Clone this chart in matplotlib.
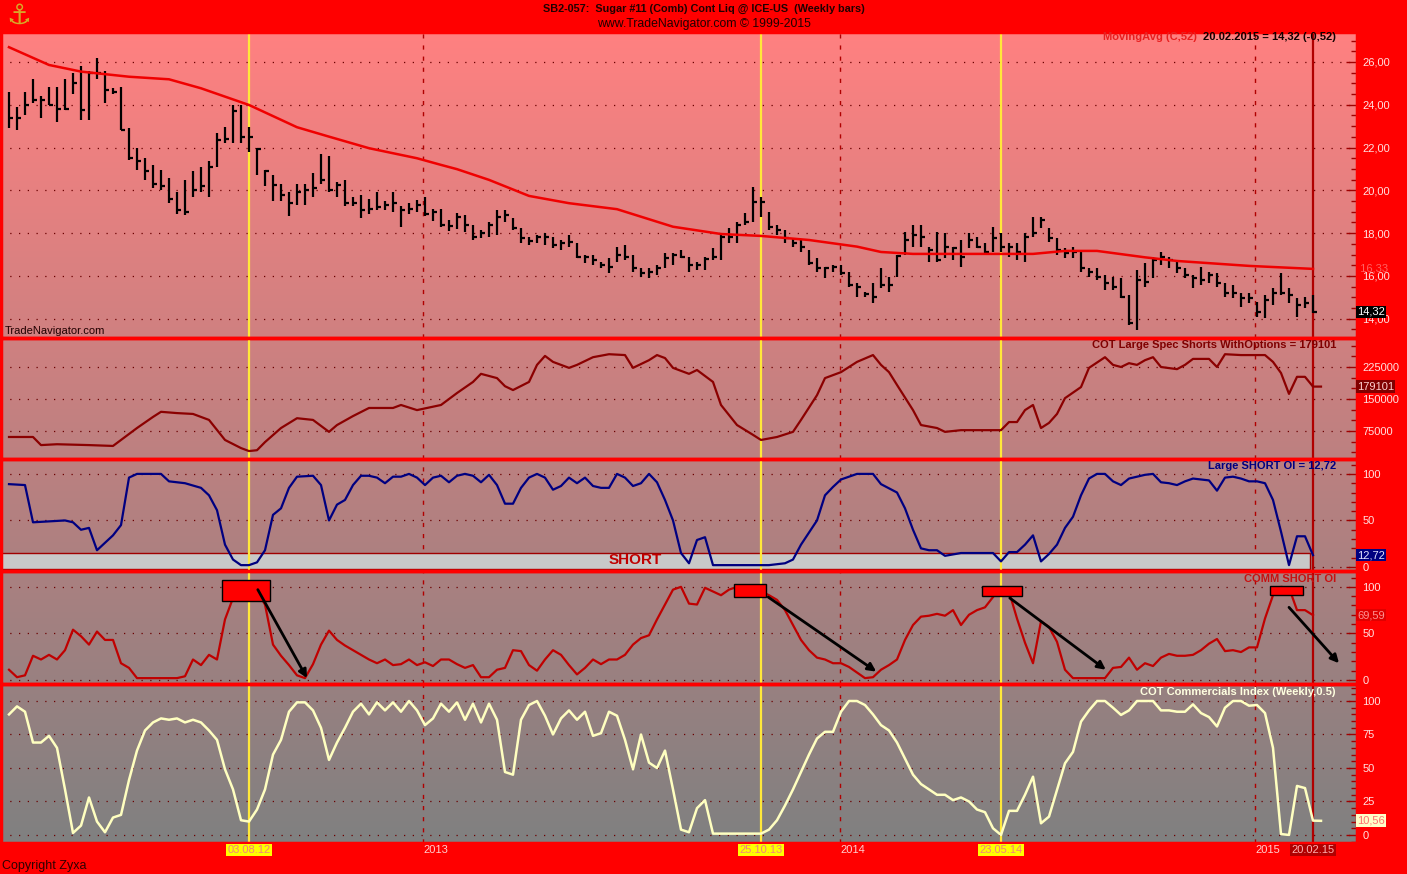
"""Sugar #11 weekly bars with COT panels, TradeNavigator style."""

import numpy as np
import matplotlib
matplotlib.use('Agg')
import matplotlib.pyplot as plt
from matplotlib.patches import Rectangle
from matplotlib.ticker import MultipleLocator, FuncFormatter
from matplotlib import font_manager

plt.rcParams['font.family'] = ['Liberation Sans', 'DejaVu Sans']

# weekly bars: week 0 = early Jan 2012, week 163 = 20.02.2015
bar_high = [
    24.6, 23.9, 24.6, 25.2, 24.4, 24.85, 24.85, 25.2, 25.5, 25.8,
    25.6, 26.2, 25.6, 24.8, 24.85, 22.9, 22.0, 21.5, 21.2, 20.95,
    20.6, 19.9, 20.5, 20.9, 21.1, 21.35, 22.7, 22.95, 24.0, 24.0,
    22.95, 22.0, 20.95, 20.7, 20.3, 19.9, 20.3, 20.3, 20.8, 21.7,
    21.6, 20.4, 20.5, 19.7, 19.8, 19.6, 19.9, 19.5, 19.9, 19.25,
    19.4, 19.55, 19.7, 19.15, 19.15, 18.6, 18.93, 18.85, 18.38, 18.15,
    18.54, 19.08, 19.08, 18.7, 18.23, 17.84, 17.92, 18.0, 17.84, 17.68,
    17.92, 17.53, 16.98, 16.98, 16.67, 16.83, 17.37, 17.45, 16.98, 16.36,
    16.36, 16.5, 17.06, 17.06, 17.2, 16.9, 16.67, 16.9, 17.3, 17.92,
    18.23, 18.54, 18.93, 20.17, 19.7, 19.0, 18.38, 18.15, 17.76, 17.68,
    17.2, 16.83, 16.43, 16.5, 16.5, 16.2, 15.66, 15.27, 15.66, 16.36,
    15.97, 17.0, 18.07, 18.38, 18.38, 17.37, 18.07, 18.0, 17.37, 17.68,
    18.0, 17.84, 17.53, 18.3, 18.0, 17.53, 17.53, 18.0, 18.77, 18.77,
    18.23, 17.76, 17.3, 17.37, 17.14, 16.36, 16.36, 16.05, 15.97, 15.9,
    15.11, 16.28, 16.6, 16.9, 17.14, 16.9, 16.75, 16.36, 16.05, 16.43,
    16.2, 16.13, 15.66, 15.58, 15.19, 15.19, 14.8, 15.11, 15.42, 16.13,
    15.42, 14.96, 15.03, 15.11]
bar_low = [
    22.9, 22.8, 23.5, 24.1, 23.4, 24.0, 23.2, 23.75, 24.5, 23.3,
    23.3, 25.2, 24.1, 24.5, 22.8, 21.4, 20.95, 20.5, 20.1, 20.0,
    19.4, 18.9, 18.85, 19.7, 19.9, 19.7, 21.1, 22.2, 22.2, 22.2,
    21.8, 20.7, 20.2, 19.5, 19.5, 18.8, 19.3, 19.3, 19.7, 20.3,
    19.9, 19.7, 19.25, 19.25, 18.7, 18.9, 19.1, 19.1, 19.0, 18.3,
    18.9, 19.0, 18.8, 18.55, 18.3, 18.1, 18.2, 18.07, 17.68, 17.76,
    17.84, 17.92, 18.54, 18.15, 17.53, 17.45, 17.53, 17.45, 17.3, 17.2,
    17.37, 16.83, 16.6, 16.5, 16.36, 16.13, 16.67, 16.75, 16.2, 15.97,
    15.9, 16.05, 16.36, 16.5, 16.83, 16.2, 16.28, 16.28, 16.75, 16.75,
    17.53, 17.53, 18.38, 18.54, 18.77, 18.15, 17.92, 17.53, 17.37, 17.14,
    16.5, 16.2, 15.9, 16.2, 16.05, 15.5, 15.03, 15.03, 14.72, 15.42,
    15.27, 15.97, 16.98, 17.37, 17.37, 16.67, 16.67, 16.83, 16.75, 16.43,
    17.3, 17.3, 17.06, 17.14, 17.14, 16.9, 16.75, 16.67, 17.84, 18.23,
    17.6, 16.98, 16.83, 16.83, 16.2, 15.97, 15.81, 15.35, 15.35, 14.96,
    13.71, 13.48, 15.5, 15.9, 16.5, 16.36, 16.13, 15.9, 15.42, 15.58,
    15.66, 15.5, 15.03, 14.96, 14.57, 14.72, 14.1, 14.02, 14.64, 15.11,
    14.72, 14.1, 14.49, 14.25]
bar_close = [
    23.4, 23.4, 24.0, 24.2, 24.2, 24.0, 23.8, 23.8, 25.0, 23.75,
    25.5, 25.5, 24.7, 24.6, 22.8, 21.5, 21.35, 20.9, 20.3, 20.2,
    19.6, 19.1, 19.0, 20.0, 20.2, 21.1, 22.35, 22.4, 23.7, 22.5,
    22.5, 21.95, 20.9, 20.25, 19.8, 19.4, 19.9, 20.0, 20.1, 20.5,
    20.0, 20.25, 19.4, 19.4, 19.1, 19.15, 19.2, 19.3, 19.4, 19.1,
    19.15, 19.3, 18.9, 19.0, 18.4, 18.35, 18.77, 18.38, 17.8, 18.0,
    18.38, 18.77, 18.85, 18.23, 17.76, 17.65, 17.8, 17.8, 17.45, 17.53,
    17.6, 16.9, 16.87, 16.75, 16.5, 16.43, 16.98, 16.9, 16.36, 16.13,
    16.2, 16.36, 16.83, 16.98, 16.9, 16.5, 16.5, 16.78, 16.9, 17.84,
    17.8, 18.38, 18.54, 19.47, 19.47, 18.3, 18.15, 17.76, 17.53, 17.37,
    16.6, 16.36, 16.36, 16.4, 16.13, 15.58, 15.5, 15.16, 15.03, 15.58,
    15.58, 16.95, 17.68, 17.92, 17.84, 17.2, 16.75, 17.37, 17.3, 16.9,
    17.68, 17.37, 17.14, 17.76, 17.37, 17.37, 17.14, 17.84, 18.0, 18.62,
    17.76, 17.2, 17.06, 17.14, 16.36, 16.2, 15.97, 15.66, 15.5, 15.03,
    13.79, 15.81, 15.73, 16.75, 16.9, 16.75, 16.36, 16.05, 15.9, 15.81,
    16.05, 15.66, 15.19, 15.19, 14.96, 14.96, 14.33, 14.88, 15.19, 15.19,
    15.11, 14.64, 14.72, 14.32]

# 52 week moving average, read at these weeks
ma_week = [0, 5, 9, 15, 20, 24, 30, 36, 40, 45, 51, 54, 56, 60, 65, 70,
           76, 83, 89, 94, 100, 106, 109, 113, 121, 128, 132, 136, 142,
           146, 155, 163]
ma_value = [26.69, 25.86, 25.55, 25.31, 25.19, 24.77, 23.99, 22.95, 22.51,
            21.97, 21.5, 21.19, 20.99, 20.49, 19.74, 19.4, 19.12, 18.3,
            17.96, 17.87, 17.68, 17.37, 17.12, 17.03, 17.03, 17.03, 17.17,
            17.17, 16.87, 16.7, 16.47, 16.33]

# COT large spec shorts with options (thousands of contracts)
spec_week = [0, 3, 4, 6, 10, 13, 14, 16, 18, 19, 21, 23, 25, 27, 29, 30, 31,
             32, 34, 36, 38, 40, 41, 43, 45, 48, 49, 51, 54, 56, 58, 59, 61,
             62, 63, 65, 66, 67, 68, 70, 71, 73, 75, 77, 78, 80, 81, 82, 83,
             85, 86, 88, 89, 91, 93, 94, 96, 98, 99, 101, 102, 104, 106, 108,
             109, 110, 111, 113, 114, 116, 117, 119, 122, 124, 125, 126, 127,
             128, 129, 130, 131, 132, 134, 135, 137, 138, 139, 140, 141, 142,
             143, 144, 146, 147, 148, 150, 151, 152, 154, 156, 157, 158, 159,
             160, 161, 162, 163, 164]
spec_shorts = [61, 61, 42, 44, 42, 40, 54, 82, 108, 120, 117, 115, 101, 54,
               35, 28, 30, 49, 82, 105, 101, 73, 89, 110, 129, 129, 136, 124,
               136, 164, 190, 209, 199, 180, 171, 190, 230, 251, 237, 223,
               230, 248, 255, 253, 223, 241, 253, 246, 223, 209, 218, 190,
               136, 89, 66, 54, 61, 73, 101, 159, 199, 213, 237, 253, 230,
               213, 183, 124, 89, 82, 73, 77, 77, 77, 96, 96, 124, 136, 82,
               94, 115, 152, 178, 223, 248, 230, 225, 234, 230, 241, 248, 225,
               220, 230, 244, 244, 225, 255, 253, 253, 253, 237, 211, 162,
               202, 202, 179.101, 179.101]

# Large SHORT OI index
large_week = [0, 2, 3, 5, 7, 8, 9, 10, 11, 13, 14, 15, 16, 19, 20, 22, 24,
              25, 26, 27, 28, 29, 30, 31, 32, 33, 34, 35, 36, 38, 39, 40, 41,
              42, 43, 44, 45, 46, 47, 48, 49, 50, 51, 52, 53, 54, 55, 56, 57,
              58, 59, 60, 61, 62, 63, 64, 65, 66, 67, 68, 69, 70, 71, 72, 73,
              74, 75, 76, 77, 78, 79, 80, 81, 82, 83, 84, 85, 86, 87, 88, 95,
              97, 98, 99, 101, 102, 103, 104, 106, 108, 109, 111, 112, 113,
              114, 115, 116, 117, 119, 123, 124, 125, 126, 127, 128, 129, 130,
              131, 132, 133, 134, 135, 136, 137, 138, 139, 140, 141, 142, 143,
              144, 145, 146, 147, 148, 150, 151, 152, 153, 154, 155, 156, 157,
              158, 159, 160, 161, 162, 163]
large_short_oi = [89, 88, 48, 49, 50, 48, 40, 42, 18, 34, 45, 96, 100, 100,
                  92, 90, 85, 77, 61, 24, 8, 2, 2, 5, 18, 56, 63, 85, 97, 98,
                  88, 50, 67, 72, 88, 98, 98, 96, 90, 97, 97, 100, 96, 88, 96,
                  98, 91, 98, 100, 98, 91, 99, 88, 68, 68, 85, 96, 100, 96, 83,
                  87, 96, 90, 96, 87, 85, 85, 100, 96, 87, 90, 100, 91, 72, 50,
                  15, 4, 29, 32, 2, 2, 4, 8, 24, 50, 77, 86, 94, 100, 100, 89,
                  80, 63, 40, 20, 18, 18, 12, 15, 15, 6, 16, 16, 24, 34, 6, 14,
                  24, 42, 54, 77, 95, 100, 100, 92, 88, 95, 97, 99, 100, 91, 90,
                  88, 92, 95, 93, 82, 96, 97, 95, 92, 92, 90, 72, 38, 2, 33, 33,
                  12.72]

# COMM SHORT OI, one value per week
comm_short_oi = [
    11, 3, 5, 26, 22, 27, 22, 32, 54, 47,
    38, 52, 43, 43, 18, 13, 2, 2, 2, 2,
    2, 2, 4, 22, 16, 27, 22, 65, 88, 97,
    100, 95, 81, 38, 26, 16, 5, 2, 17, 38,
    53, 43, 37, 32, 27, 22, 18, 22, 16, 17,
    22, 16, 19, 15, 22, 22, 17, 13, 16, 3,
    3, 11, 13, 32, 31, 16, 10, 22, 32, 27,
    16, 6, 13, 22, 17, 22, 22, 27, 38, 45,
    48, 65, 81, 97, 100, 82, 81, 99, 95, 91,
    97, 100, 97, 100, 95, 91, 86, 75, 59, 43,
    32, 24, 22, 18, 18, 14, 8, 2, 3, 11,
    16, 22, 43, 59, 68, 69, 71, 69, 75, 59,
    70, 75, 78, 89, 100, 95, 66, 40, 18, 63,
    57, 41, 11, 2, 2, 2, 2, 2, 13, 14,
    24, 11, 18, 15, 24, 28, 26, 26, 27, 32,
    39, 44, 31, 32, 30, 35, 35, 66, 91, 100,
    99, 75, 75, 69.59]

# COT Commercials Index (Weekly, 0.5), one value per week
comm_index = [
    90, 96, 92, 69, 69, 74, 65, 34, 1.5, 7,
    28, 10, 2, 13, 15, 41, 63, 78, 84, 87,
    86, 87, 84, 86, 84, 78, 71, 49, 34, 11,
    10, 19, 34, 60, 71, 92, 99, 99, 93, 80,
    56, 69, 80, 92, 98, 90, 99, 93, 99, 92,
    100, 93, 82, 87, 98, 92, 99, 86, 98, 84,
    98, 86, 47, 45, 86, 97, 100, 89, 75, 87,
    93, 86, 92, 74, 76, 92, 89, 71, 49, 75,
    54, 50, 63, 34, 4, 2, 20, 26, 1, 1,
    1, 1, 1, 1, 1, 4, 11, 22, 34, 47,
    60, 72, 77, 77, 92, 100, 100, 97, 90, 82,
    78, 69, 57, 45, 38, 34, 30, 30, 26, 28,
    25, 19, 17, 5, 0, 18, 18, 30, 43.5, 8.7,
    13.7, 33.6, 53.5, 62, 84.6, 93, 100, 100, 95, 89.6,
    93, 100, 100, 100, 93, 93, 92, 92, 97.5, 91,
    88, 81, 95, 100, 100, 96.5, 97, 91, 65, 0.7,
    0, 36.6, 35, 10.7, 10.56]

signal_weeks = [30, 94, 124]
signal_labels = ['03.08.12', '25.10.13', '23.05.14']
year_weeks = [51.75, 103.9, 155.75]
year_labels = ['2013', '2014', '2015']
last_week = 163
last_label = '20.02.15'

W, H = 1407, 874
LEFT, RIGHT = 1, 1357
fig = plt.figure(figsize=(W / 100, H / 100), dpi=100, facecolor='#FF0000')

names = {f.name for f in font_manager.fontManager.ttflist}
narrow = ['Liberation Sans Narrow', 'DejaVu Sans'] \
    if 'Liberation Sans Narrow' in names else ['Liberation Sans', 'DejaVu Sans']
title_size = 9.5 if 'Liberation Sans Narrow' in names else 7.8


def px_rect(x0, y0, x1, y1):
    return [x0 / W, 1 - y1 / H, (x1 - x0) / W, (y1 - y0) / H]


def ftext(x, y, s, **kw):
    return fig.text(x / W, 1 - y / H, s, **kw)


# pink-to-grey gradient behind all panels
bg = fig.add_axes(px_rect(LEFT, 32, RIGHT, 843), zorder=0)
t = np.linspace(0, 1, 256)[:, None, None]
top = np.array([255, 128, 128]) / 255.0
bot = np.array([128, 128, 128]) / 255.0
grad = top * (1 - t) + bot * t
bg.imshow(np.repeat(grad, 2, axis=1), aspect='auto', extent=[0, 1, 0, 1])
bg.axis('off')

bounds = [(32, 338), (338, 459), (459, 571), (571, 684), (684, 843)]
ylims = [(13.10, 27.40), (9400, 293000), (-4.3, 116), (-4.3, 117), (-6, 112.7)]
majors = [2, 75000, 50, 50, 25]
minors = [0.5, 25000, 10, 10, 5]
fmts = [lambda v, p: ('%.2f' % v).replace('.', ','),
        lambda v, p: '%d' % v,
        lambda v, p: '%d' % v,
        lambda v, p: '%d' % v,
        lambda v, p: '%d' % v]

axes = []
for (ty, by), yl, mj, mn, fm in zip(bounds, ylims, majors, minors, fmts):
    ax = fig.add_axes(px_rect(LEFT, ty, RIGHT, by), zorder=1)
    ax.set_facecolor('none')
    ax.set_xlim(-1, 168.5)
    ax.set_ylim(*yl)
    ax.set_xticks([])
    ax.yaxis.tick_right()
    ax.yaxis.set_major_locator(MultipleLocator(mj))
    ax.yaxis.set_minor_locator(MultipleLocator(mn))
    ax.yaxis.set_major_formatter(FuncFormatter(fm))
    ax.tick_params(axis='y', which='major', direction='in', length=8,
                   width=1, color='#A00000', labelcolor='#FFE0E0',
                   labelsize=8, pad=4)
    ax.tick_params(axis='y', which='minor', direction='in', length=4,
                   width=1, color='#A00000')
    for s in ax.spines.values():
        s.set_color('#FF0000')
        s.set_linewidth(2.5)
    for v in np.arange(np.ceil(yl[0] / mj) * mj, yl[1], mj):
        ax.axhline(v, color='#6A0000', lw=0.9, ls=(0, (1, 6)), zorder=1)
    for w in year_weeks:
        ax.axvline(w, color='#B00000', lw=1, ls=(0, (3, 5)), zorder=1)
    for w in signal_weeks:
        ax.axvline(w, color='#FFE83A', lw=1.6, zorder=2)
    ax.axvline(last_week, color='#B00000', lw=1.6, zorder=2)
    axes.append(ax)

ax1, ax2, ax3, ax4, ax5 = axes

# price bars and moving average
weeks = np.arange(len(bar_close))
ax1.vlines(weeks, bar_low, bar_high, color='black', lw=1.6, zorder=3)
ax1.hlines(bar_close, weeks, weeks + 0.45, color='black', lw=1.6, zorder=3)
ax1.plot(ma_week, ma_value, color='#F00000', lw=1.8, zorder=4)

ax2.plot(spec_week, np.array(spec_shorts) * 1000, color='#8B0000', lw=1.6, zorder=3)

ax3.add_patch(Rectangle((-1.2, -2.2), 163.8, 17.2, fc='#C8C8C8', ec='#A00000',
                        lw=1, zorder=1.5))
ax3.text(78.25, 7.5, 'SHORT', color='#C00000', fontsize=11, fontweight='bold',
         ha='center', va='center', zorder=2)
ax3.plot(large_week, large_short_oi, color='#000080', lw=1.6, zorder=3)

ax4.plot(np.arange(len(comm_short_oi)), comm_short_oi, color='#C00000', lw=1.6, zorder=3)
for x0, x1, y0, y1 in [(26.6, 32.6, 85, 107.5), (90.6, 94.6, 89, 103),
                       (121.6, 126.6, 90, 101), (157.6, 161.75, 91, 101)]:
    ax4.add_patch(Rectangle((x0, y0), x1 - x0, y1 - y0, fc='#FF0000',
                            ec='black', lw=1, zorder=4))
for (xs, ys), (xe, ye) in [((31.1, 97), (37.25, 2)), ((94.9, 89), (108.4, 9)),
                           ((125.1, 88), (137.1, 11)), ((160, 78), (166.25, 18))]:
    ax4.annotate('', xy=(xe, ye), xytext=(xs, ys), zorder=5,
                 arrowprops=dict(arrowstyle='-|>', color='black', lw=2,
                                 mutation_scale=12, shrinkA=0, shrinkB=0))

ax5.plot(np.arange(len(comm_index)), comm_index, color='#FFFFC0', lw=1.8, zorder=3)

# panel legends
bold = dict(fontsize=8, fontweight='bold', va='center')
ftext(1197, 37, 'MovingAvg (C,52)', color='#E82020', ha='right', **bold)
ftext(1336, 37, '20.02.2015 = 14,32 (-0,52)', color='#100000', ha='right', **bold)
ftext(1336, 345, 'COT Large Spec Shorts WithOptions = 179101', color='#800000',
      ha='right', **bold)
ftext(1336, 466, 'Large SHORT OI = 12,72', color='#000080', ha='right', **bold)
ftext(1336, 579, 'COMM SHORT OI', color='#C81010', ha='right', **bold)
ftext(1336, 692, 'COT Commercials Index (Weekly,0.5)', color='#FFFFE0',
      ha='right', **bold)
ftext(5, 331, 'TradeNavigator.com', color='#200000', fontsize=8, va='center')

# current value markers on the right scale
def value_box(ax, v, s, fc, tc):
    ax.text(1.0, v, s, transform=ax.get_yaxis_transform(), ha='left',
            va='center', color=tc, fontsize=8, clip_on=False, zorder=6,
            bbox=dict(boxstyle='square,pad=0.12', fc=fc, ec='none'))

ax1.text(1.0, 16.33, ' 16,33', transform=ax1.get_yaxis_transform(), ha='left',
         va='center', color='#FF6060', fontsize=8, clip_on=False)
value_box(ax1, 14.32, '14,32', '#000000', '#FFFFFF')
value_box(ax2, 179101, '179101', '#800000', '#FFD0D0')
value_box(ax3, 12.72, '12,72', '#000080', '#E0E0FF')
value_box(ax4, 69.59, '69,59', '#E00000', '#FF9090')
value_box(ax5, 10.56, '10,56', '#FFFFC8', '#FF7070')

# date labels under the chart
xt = ax5.get_xaxis_transform()
yb = -7 / 159
for w, lab in zip(signal_weeks, signal_labels):
    ax5.text(w, yb, lab, transform=xt, ha='center', va='center', fontsize=8,
             color='#F08080', clip_on=False,
             bbox=dict(boxstyle='square,pad=0.12', fc='#FFFF00', ec='none'))
for w, lab in zip(year_weeks, year_labels):
    ax5.text(w, yb, lab, transform=xt, ha='left', va='center', fontsize=8,
             color='#FFD0D0', clip_on=False)
ax5.text(last_week, yb, last_label, transform=xt, ha='center', va='center',
         fontsize=8, color='#FFB0B0', clip_on=False,
         bbox=dict(boxstyle='square,pad=0.12', fc='#B00000', ec='none'))

# header and footer
ftext(704, 9, 'SB2-057:  Sugar #11 (Comb) Cont Liq @ ICE-US  (Weekly bars)',
      family=narrow, fontsize=title_size, fontweight='bold', color='#200000',
      ha='center', va='center')
ftext(704, 24, 'www.TradeNavigator.com \u00a9 1999-2015', family=narrow,
      fontsize=title_size + 1, color='#200000', ha='center', va='center')
ftext(19, 16, '\u2693', family=['DejaVu Sans'], fontsize=20, color='#D8A828',
      ha='center', va='center')
ftext(2, 866, 'Copyright Zyxa', color='#300000', fontsize=9, va='center')

fig.savefig('out.png', dpi=100, facecolor=fig.get_facecolor())
